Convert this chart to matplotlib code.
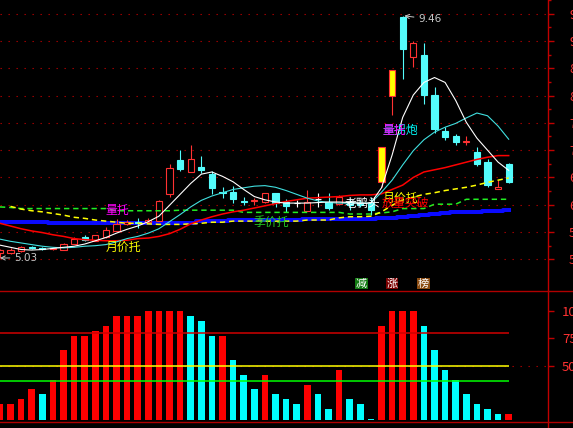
import numpy as np
import matplotlib
matplotlib.use("Agg")
import matplotlib.pyplot as plt
from matplotlib.patches import Rectangle
from matplotlib.lines import Line2D

# K线数据
opens = [5.12, 5.11, 5.16, 5.23, 5.21, 5.19, 5.18, 5.29, 5.41, 5.34,
         5.40, 5.52, 5.65, 5.68, 5.69, 5.71, 6.19, 6.82, 6.60, 6.69,
         6.57, 6.24, 6.24, 6.06, 6.07, 6.05, 6.21, 6.05, 6.03, 5.89,
         6.10, 6.05, 6.02, 6.05, 6.03, 6.03, 6.42, 7.99, 9.44, 8.71,
         8.74, 8.01, 7.35, 7.26, 7.15, 6.97, 6.79, 6.28, 6.74]
closes = [5.17, 5.18, 5.22, 5.21, 5.19, 5.21, 5.29, 5.38, 5.35, 5.44,
          5.54, 5.65, 5.68, 5.66, 5.72, 6.07, 6.68, 6.65, 6.83, 6.63,
          6.31, 6.22, 6.10, 6.05, 6.08, 6.21, 6.03, 5.98, 6.03, 6.05,
          6.10, 5.94, 6.15, 5.99, 6.00, 5.90, 7.06, 8.47, 8.85, 8.96,
          8.01, 7.38, 7.24, 7.15, 7.16, 6.74, 6.37, 6.32, 6.42]
highs = [5.19, 5.20, 5.24, 5.25, 5.22, 5.22, 5.30, 5.41, 5.44, 5.45,
         5.59, 5.74, 5.72, 5.75, 5.75, 6.08, 6.74, 7.00, 7.09, 6.89,
         6.62, 6.33, 6.34, 6.15, 6.12, 6.22, 6.22, 6.10, 6.08, 6.27,
         6.21, 6.22, 6.17, 6.12, 6.08, 6.15, 7.06, 8.47, 9.46, 9.00,
         8.96, 8.15, 7.43, 7.30, 7.26, 7.06, 6.83, 6.46, 6.77]
lows = [5.03, 5.09, 5.14, 5.19, 5.17, 5.18, 5.17, 5.28, 5.34, 5.33,
        5.39, 5.51, 5.62, 5.58, 5.68, 5.70, 6.15, 6.62, 6.60, 6.58,
        6.19, 6.13, 6.04, 5.99, 5.99, 6.04, 5.95, 5.87, 5.95, 5.89,
        5.96, 5.91, 6.00, 5.90, 5.96, 5.82, 6.33, 7.64, 8.30, 8.52,
        7.85, 7.32, 7.18, 7.10, 7.09, 6.71, 6.33, 6.28, 6.40]
limit_up = [36, 37]

# 均线
ma_white = [5.26, 5.22, 5.18, 5.17, 5.18, 5.20, 5.22, 5.24, 5.28, 5.34,
            5.40, 5.48, 5.55, 5.61, 5.69, 5.79, 5.99, 6.19, 6.39, 6.56,
            6.60, 6.52, 6.42, 6.28, 6.15, 6.09, 6.05, 6.03, 6.03, 6.03,
            6.04, 6.05, 6.05, 6.04, 6.03, 6.03, 6.31, 6.91, 7.60, 8.01,
            8.24, 8.33, 8.24, 7.91, 7.51, 7.22, 7.00, 6.78, 6.63]
ma_cyan = [5.37, 5.33, 5.30, 5.27, 5.24, 5.22, 5.21, 5.22, 5.24, 5.25,
           5.27, 5.32, 5.38, 5.42, 5.48, 5.56, 5.69, 5.82, 5.96, 6.08,
           6.16, 6.22, 6.28, 6.31, 6.34, 6.35, 6.32, 6.26, 6.19, 6.12,
           6.07, 6.04, 6.03, 6.03, 6.03, 6.03, 6.23, 6.45, 6.73, 6.99,
           7.19, 7.33, 7.42, 7.49, 7.59, 7.68, 7.63, 7.44, 7.20]
ma_red = [5.66, 5.61, 5.56, 5.52, 5.49, 5.45, 5.42, 5.38, 5.36, 5.35,
          5.34, 5.34, 5.35, 5.38, 5.39, 5.42, 5.47, 5.55, 5.65, 5.72,
          5.78, 5.83, 5.87, 5.90, 5.94, 5.98, 6.02, 6.06, 6.09, 6.12,
          6.13, 6.14, 6.15, 6.17, 6.18, 6.18, 6.20, 6.28, 6.36, 6.50,
          6.60, 6.64, 6.68, 6.73, 6.78, 6.83, 6.87, 6.90, 6.90]
ma_yellow = [np.nan, 5.97, 5.92, 5.89, 5.87, 5.84, 5.81, 5.77, 5.75, 5.72,
             5.70, 5.68, 5.66, 5.66, 5.65, 5.64, 5.64, 5.64, 5.65, 5.66,
             5.68, 5.68, 5.70, 5.70, 5.70, 5.70, 5.70, 5.70, 5.70, 5.72,
             5.72, 5.72, 5.76, 5.78, 5.78, 5.79, 5.87, 5.99, 6.09, 6.14,
             6.19, 6.22, 6.26, 6.29, 6.32, 6.36, 6.41, 6.45, 6.49]
ma_green = [5.96, 5.95, 5.93, 5.93, 5.93, 5.93, 5.93, 5.93, 5.93, 5.93,
            5.93, 5.89, 5.89, 5.89, 5.89, 5.89, 5.89, 5.90, 5.90, 5.90,
            5.90, 5.90, 5.90, 5.86, 5.86, 5.86, 5.86, 5.86, 5.86, 5.86,
            5.86, 5.86, 5.86, 5.83, 5.83, 5.83, 5.85, 5.87, 5.93, 5.93,
            5.93, 6.01, 6.01, 6.01, 6.10, 6.10, 6.10, 6.10, 6.10]
ma_blue = [5.69, 5.69, 5.69, 5.69, 5.69, 5.66, 5.66, 5.66, 5.66, 5.66,
           5.66, 5.66, 5.66, 5.66, 5.66, 5.66, 5.66, 5.66, 5.66, 5.70,
           5.70, 5.70, 5.72, 5.72, 5.72, 5.72, 5.72, 5.72, 5.72, 5.74,
           5.74, 5.74, 5.74, 5.74, 5.74, 5.74, 5.75, 5.76, 5.78, 5.80,
           5.81, 5.83, 5.85, 5.86, 5.87, 5.87, 5.88, 5.89, 5.90]

# 副图指标
osc_vals = [14.7, 14.7, 19.3, 28.4, 23.9, 36.7, 64.2, 77.1, 77.1, 81.7,
            86.2, 95.4, 95.4, 95.4, 100, 100, 100, 100, 95.4, 90.8,
            77.1, 77.1, 55.0, 41.3, 28.4, 41.3, 23.9, 19.3, 14.7, 32.1,
            23.9, 10.1, 45.9, 19.3, 14.7, 0.9, 86.2, 100, 100, 100,
            86.2, 64.2, 45.9, 36.7, 23.9, 14.7, 10.1, 5.5, 5.5]
osc_up = "rrrrcrrrrrrrrrrrrrccc" + "rcccrcccrccrcccrrrr" + "ccccccccr"
osc_levels = [80, 50, 36]
osc_level_colors = ['#D00000', '#FFFF00', '#00FF00']

price_ticks = [5.0, 5.5, 6.0, 6.5, 7.0, 7.5, 8.0, 8.5, 9.0, 9.5]
osc_ticks = [50, 75, 100]

# 图上文字 (文字, x序号, 价格, 颜色)
labels = [
    ("量托", 10.0, 5.90, '#FF00FF'),
    ("月价托", 10.0, 5.225, '#FFFF00'),
    ("季价托", 23.9, 5.68, '#22CC22'),
    ("老鸭头", 32.55, 6.03, '#FFFFFF'),
    ("月价托", 36.15, 6.12, '#FFFF00'),
    ("放量突破", 36.05, 6.03, '#FF0000'),
    ("量拐炮", 36.05, 7.355, '#00FFFF'),
    ("量托", 36.05, 7.355, '#FF00FF'),
]

RED = '#FF3232'
CYAN = '#54FCFC'
AXC = '#C00000'

plt.rcParams['font.family'] = ['Noto Sans CJK SC', 'DejaVu Sans']

W, H = 573, 428
fig = plt.figure(figsize=(W / 100, H / 100), dpi=100, facecolor='black')
ax1 = fig.add_axes([0, (H - 291) / H, 547.5 / W, 291 / H], facecolor='black')
ax2 = fig.add_axes([0, 0, 547.5 / W, (H - 291) / H], facecolor='black')

n = len(opens)
idx = np.arange(n)
xl = (0.0094, 51.66)

# ---- 主图 ----
for p in price_ticks:
    ax1.axhline(p, color='#B00000', lw=0.8, dashes=(1.2, 6), zorder=1)

ax1.plot(idx, ma_blue, color='#0A0AFF', lw=2.9, drawstyle='steps-mid', zorder=2)

bw = 0.57
for i in range(n):
    o, h, l, c = opens[i], highs[i], lows[i], closes[i]
    top, bot = max(o, c), min(o, c)
    if i in limit_up:
        wc, fc, ec = RED, '#FFFF00', RED
    elif c > o:
        wc, fc, ec = RED, 'black', RED
    elif c < o:
        wc, fc, ec = CYAN, CYAN, CYAN
    else:
        wc, fc, ec = 'white', None, 'white'
    ax1.vlines(i, top, h, color=wc, lw=0.8, zorder=3)
    ax1.vlines(i, l, bot, color=wc, lw=0.8, zorder=3)
    if fc is None:
        ax1.hlines(o, i - bw / 2, i + bw / 2, color=wc, lw=0.8, zorder=3)
    else:
        ax1.add_patch(Rectangle((i - bw / 2, bot), bw, max(top - bot, 0.005),
                                facecolor=fc, edgecolor=ec, lw=0.8, zorder=4))

ax1.plot(idx, ma_green, color='#22EE22', lw=1.1, dashes=(3.5, 2.5), zorder=5)
ax1.plot(idx, ma_yellow, color='#FFFF00', lw=1.1, dashes=(3.5, 2.5), zorder=5)
ax1.plot(idx, ma_red, color='#FF0000', lw=1.1, zorder=5)
ax1.plot(idx, ma_cyan, color='#40E0E0', lw=0.8, zorder=5)
ax1.plot(idx, ma_white, color='white', lw=0.8, zorder=5)

for txt, x, y, col in labels:
    ax1.text(x, y, txt, color=col, fontsize=8.6, ha='left', va='center', zorder=7)

gray = '#C8C8C8'
hi = int(np.argmax(highs))
lo = int(np.argmin(lows))
ax1.annotate(f'{highs[hi]:.2f}', xy=(hi + 0.15, highs[hi]), xytext=(39.45, 9.40),
             color=gray, fontsize=7.5, family='DejaVu Sans', va='center', ha='left',
             arrowprops=dict(arrowstyle='->', color=gray, lw=0.7, shrinkA=1, shrinkB=0),
             zorder=8)
ax1.annotate(f'{lows[lo]:.2f}', xy=(lo + 0.01, 5.025), xytext=(1.33, 5.025),
             color=gray, fontsize=7.5, family='DejaVu Sans', va='center', ha='left',
             arrowprops=dict(arrowstyle='->', color=gray, lw=0.7, shrinkA=1, shrinkB=0),
             zorder=8)

ax1.set_xlim(*xl)
ax1.set_ylim(4.420, 9.743)
ax1.yaxis.tick_right()
ax1.set_yticks(price_ticks)
ax1.set_yticklabels([f'{v:.2f}' for v in price_ticks])
ax1.set_yticks([v + 0.25 for v in price_ticks], minor=True)
ax1.tick_params(axis='y', which='major', length=4, width=1, color=AXC,
                labelcolor=RED, labelsize=9, pad=11.5)
ax1.tick_params(axis='y', which='minor', length=2, width=1, color=AXC)
ax1.set_xticks([])

# ---- 副图 ----
bar_cols = ['#FF0000' if k == 'r' else '#00FFFF' for k in osc_up]
ax2.axhline(50, color='#B00000', lw=0.8, dashes=(1.2, 6), zorder=1)
ax2.bar(idx, osc_vals, width=0.64, color=bar_cols, zorder=2)
for lv, col in zip(osc_levels, osc_level_colors):
    ax2.hlines(lv, xl[0], 48.03, color=col, lw=1.1, zorder=3)
ax2.set_xlim(*xl)
ax2.set_ylim(-7.34, 118.35)
ax2.yaxis.tick_right()
ax2.set_yticks(osc_ticks)
ax2.set_yticklabels([str(v) for v in osc_ticks])
ax2.tick_params(axis='y', length=4, width=1, color=AXC, labelcolor=RED,
                labelsize=9.5, pad=6.5)
ax2.set_xticks([])

for ax in (ax1, ax2):
    for s in ('top', 'left', 'bottom'):
        ax.spines[s].set_visible(False)
    ax.spines['right'].set_color(AXC)
    ax.spines['right'].set_linewidth(1)

# 分隔线
fig.add_artist(Line2D([0, 1], [1 - 291 / H, 1 - 291 / H], color='#B00000', lw=1,
                      transform=fig.transFigure))
fig.add_artist(Line2D([0, 1], [1 - 421.5 / H, 1 - 421.5 / H], color='#B00000', lw=1,
                      transform=fig.transFigure))

# 减 涨 榜
for txt, px, bg in [("减", 361.5, '#127A12'), ("涨", 392, '#7A0000'), ("榜", 423.5, '#8A4A10')]:
    fig.text(px / W, 1 - 283.5 / H, txt, color='white', fontsize=8, ha='center', va='center',
             bbox=dict(boxstyle='square,pad=0.08', fc=bg, ec='none'))

fig.savefig('out.png', dpi=100, facecolor='black')
